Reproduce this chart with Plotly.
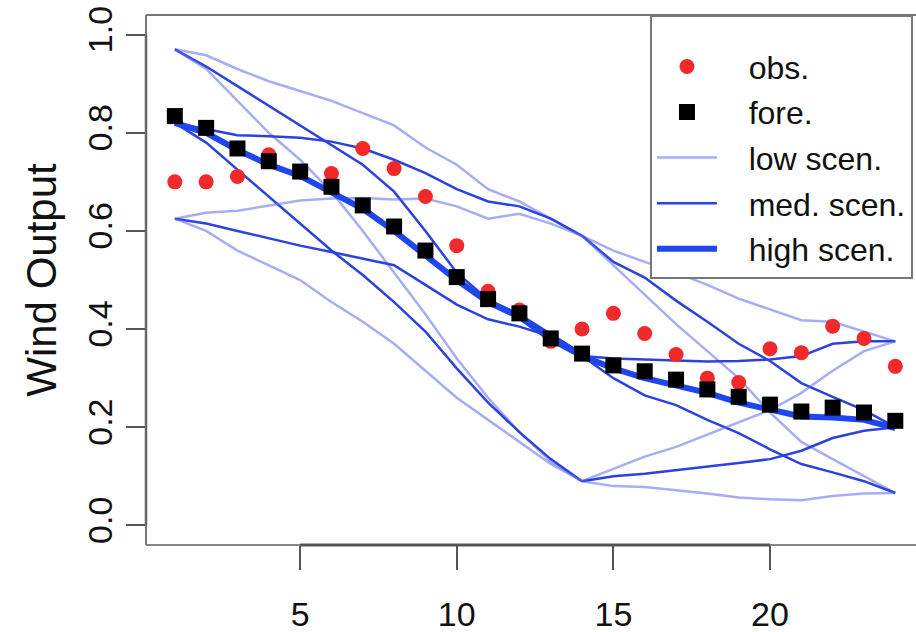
import plotly.graph_objects as go

# ---------------- data ----------------
hours = list(range(1, 25))
obs = [0.70, 0.70, 0.711, 0.755, 0.72, 0.717, 0.768, 0.727, 0.67, 0.57, 0.477, 0.439,
       0.375, 0.40, 0.432, 0.391, 0.348, 0.30, 0.291, 0.36, 0.352, 0.406, 0.381, 0.324]
fore = [0.834, 0.81, 0.768, 0.742, 0.721, 0.69, 0.652, 0.609, 0.56, 0.506, 0.461, 0.432,
        0.381, 0.35, 0.326, 0.314, 0.297, 0.277, 0.262, 0.246, 0.232, 0.24, 0.23, 0.213]

x_stage1 = list(range(1, 15))
x_stage2 = list(range(14, 25))

# stage 1 scenario segments (hours 1-14)
s1_top_low_a = [0.97, 0.958, 0.93, 0.905, 0.885, 0.865, 0.84, 0.815, 0.77, 0.735, 0.685, 0.66, 0.625, 0.59]
s1_top_med = [0.97, 0.935, 0.895, 0.855, 0.815, 0.775, 0.735, 0.68, 0.6, 0.515, 0.46, 0.43, 0.39, 0.35]
s1_top_low_b = [0.97, 0.93, 0.865, 0.8, 0.745, 0.68, 0.6, 0.515, 0.43, 0.34, 0.26, 0.19, 0.13, 0.09]
s1_mid_med_a = [0.82, 0.808, 0.795, 0.793, 0.79, 0.782, 0.768, 0.745, 0.718, 0.685, 0.66, 0.65, 0.625, 0.59]
s1_mid_high = [0.82, 0.80, 0.765, 0.735, 0.712, 0.68, 0.645, 0.60, 0.55, 0.50, 0.455, 0.425, 0.38, 0.345]
s1_mid_med_b = [0.82, 0.78, 0.725, 0.67, 0.615, 0.56, 0.51, 0.455, 0.395, 0.32, 0.25, 0.19, 0.135, 0.09]
s1_bot_low_a = [0.625, 0.637, 0.641, 0.651, 0.662, 0.666, 0.667, 0.664, 0.666, 0.65, 0.625, 0.635, 0.615, 0.59]
s1_bot_med = [0.625, 0.615, 0.60, 0.585, 0.57, 0.557, 0.543, 0.53, 0.49, 0.45, 0.42, 0.405, 0.385, 0.35]
s1_bot_low_b = [0.625, 0.60, 0.56, 0.53, 0.50, 0.455, 0.415, 0.37, 0.315, 0.26, 0.215, 0.17, 0.125, 0.09]

# stage 2 scenario segments (hours 14-24)
s2_top_low_a = [0.59, 0.56, 0.537, 0.515, 0.49, 0.462, 0.44, 0.418, 0.415, 0.395, 0.375]
s2_top_med = [0.59, 0.537, 0.505, 0.458, 0.415, 0.37, 0.335, 0.29, 0.262, 0.235, 0.20]
s2_top_low_b = [0.59, 0.53, 0.47, 0.41, 0.355, 0.30, 0.23, 0.17, 0.135, 0.10, 0.066]
s2_mid_med_a = [0.345, 0.34, 0.338, 0.336, 0.334, 0.335, 0.338, 0.345, 0.37, 0.375, 0.375]
s2_mid_high = [0.345, 0.32, 0.30, 0.285, 0.27, 0.25, 0.235, 0.222, 0.22, 0.215, 0.198]
s2_mid_med_b = [0.345, 0.30, 0.265, 0.245, 0.215, 0.188, 0.155, 0.125, 0.108, 0.09, 0.066]
s2_bot_low_a = [0.09, 0.115, 0.14, 0.16, 0.185, 0.21, 0.235, 0.27, 0.315, 0.355, 0.375]
s2_bot_med = [0.09, 0.10, 0.105, 0.112, 0.12, 0.127, 0.135, 0.152, 0.178, 0.193, 0.20]
s2_bot_low_b = [0.09, 0.08, 0.078, 0.072, 0.065, 0.057, 0.053, 0.051, 0.06, 0.065, 0.066]

segments = [
    (x_stage1, s1_top_low_a, "low"), (x_stage1, s1_top_med, "med"), (x_stage1, s1_top_low_b, "low"),
    (x_stage1, s1_mid_med_a, "med"), (x_stage1, s1_mid_med_b, "med"),
    (x_stage1, s1_bot_low_a, "low"), (x_stage1, s1_bot_med, "med"), (x_stage1, s1_bot_low_b, "low"),
    (x_stage2, s2_top_low_a, "low"), (x_stage2, s2_top_med, "med"), (x_stage2, s2_top_low_b, "low"),
    (x_stage2, s2_mid_med_a, "med"), (x_stage2, s2_mid_med_b, "med"),
    (x_stage2, s2_bot_low_a, "low"), (x_stage2, s2_bot_med, "med"), (x_stage2, s2_bot_low_b, "low"),
    (x_stage1, s1_mid_high, "high"), (x_stage2, s2_mid_high, "high"),
]

PAD = "\u00a0\u00a0\u00a0"
styles = {
    "low": dict(color="rgba(95,105,235,0.55)", width=2.5, name=PAD + "low scen.", rank=3),
    "med": dict(color="#2c42dc", width=2.5, name=PAD + "med. scen.", rank=4),
    "high": dict(color="#1f46ee", width=6, name=PAD + "high scen.", rank=5),
}

FONT = "Liberation Sans, Arial, Helvetica, sans-serif"

fig = go.Figure()
shown = set()
for xs, ys, kind in segments:
    st = styles[kind]
    fig.add_trace(go.Scatter(
        x=xs, y=ys, mode="lines",
        line=dict(color=st["color"], width=st["width"]),
        name=st["name"], legendgroup=kind, legendrank=st["rank"],
        showlegend=kind not in shown, hoverinfo="skip"))
    shown.add(kind)

fig.add_trace(go.Scatter(x=hours, y=obs, mode="markers", name=PAD + "obs.",
                         marker=dict(symbol="circle", size=15, color="#f02a2a"),
                         legendgroup="obs", legendrank=1))
fig.add_trace(go.Scatter(x=hours, y=fore, mode="markers", name=PAD + "fore.",
                         marker=dict(symbol="square", size=16, color="#000000"),
                         legendgroup="fore", legendrank=2))

fig.update_layout(
    width=916, height=632,
    margin=dict(l=146, r=0, t=15, b=87),
    paper_bgcolor="white", plot_bgcolor="white",
    font=dict(family=FONT, color="#1a1a1a", size=32),
    showlegend=True,
    legend=dict(
        x=0.6545, y=1, xanchor="left", yanchor="top",
        bgcolor="white", bordercolor="#777", borderwidth=2,
        font=dict(size=32, family=FONT, color="#111"),
        itemwidth=60, traceorder="grouped", tracegroupgap=1,
        title=dict(text="\u00a0", font=dict(size=17, family=FONT)),
    ),
    xaxis=dict(
        range=[0.08, 24.66], tickvals=[5, 10, 15, 20], ticktext=["5", "10", "15", "20"],
        ticks="outside", ticklen=24, tickwidth=1.5, tickcolor="#555",
        showline=False, showgrid=False, zeroline=False, ticklabelstandoff=15,
        tickfont=dict(size=34, family=FONT, color="#111"),
    ),
    yaxis=dict(
        range=[-0.04, 1.04], tickvals=[0, 0.2, 0.4, 0.6, 0.8, 1.0],
        ticktext=["0.0", "0.2", "0.4", "0.6", "0.8", "1.0"],
        ticks="outside", ticklen=19, tickwidth=1.5, tickcolor="#555",
        tickangle=-90, showline=False, showgrid=False, zeroline=False,
        tickfont=dict(size=34, family=FONT, color="#111"),
        title=dict(text="Wind Output", font=dict(size=42, family=FONT, color="#111"), standoff=11),
    ),
)

# plot frame (box) and axis lines
fig.add_shape(type="line", xref="paper", yref="paper", x0=0, x1=1, y0=1, y1=1,
              line=dict(color="#777", width=2))
fig.add_shape(type="line", xref="paper", yref="paper", x0=0, x1=1, y0=0, y1=0,
              line=dict(color="#888", width=2))
fig.add_shape(type="line", xref="paper", yref="paper", x0=0, x1=0, y0=0, y1=1,
              line=dict(color="#777", width=2))
fig.add_shape(type="line", xref="x", yref="paper", x0=5, x1=20, y0=0, y1=0,
              line=dict(color="#555", width=3))
fig.add_shape(type="line", xref="paper", yref="y", x0=0, x1=0, y0=0, y1=1,
              line=dict(color="#666", width=2.5))

fig.write_html("out.html")
